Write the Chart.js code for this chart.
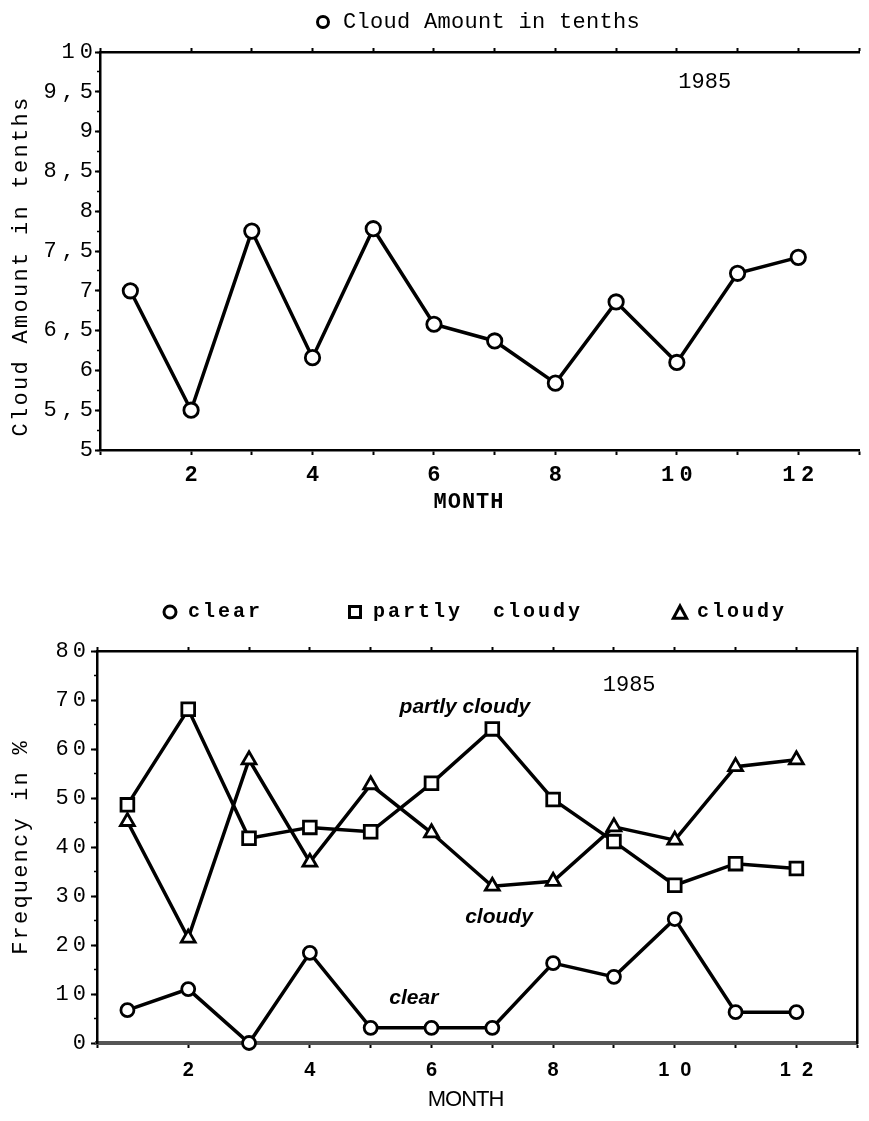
<!DOCTYPE html>
<html>
<head>
<meta charset="utf-8">
<title>Cloud amount and sky condition frequency, 1985</title>
<script src="https://cdn.jsdelivr.net/npm/chart.js@4.4.1/dist/chart.umd.min.js"></script>
<style>
  html, body { margin: 0; padding: 0; background: #fff; }
  body { width: 869px; height: 1121px; position: relative; overflow: hidden; }
  .panel { position: absolute; left: 0; width: 869px; }
  #amountPanel { top: 0; height: 530px; }
  #freqPanel { top: 580px; height: 541px; }
</style>
</head>
<body>
<div class="panel" id="amountPanel"><canvas id="amountChart"></canvas></div>
<div class="panel" id="freqPanel"><canvas id="freqChart"></canvas></div>
<script>
// Monthly values, 1985
const months = [1, 2, 3, 4, 5, 6, 7, 8, 9, 10, 11, 12];
const cloudAmount = [7.0, 5.5, 7.75, 6.16, 7.78, 6.58, 6.37, 5.84, 6.86, 6.10, 7.22, 7.42];
const clearFreq = [6.7, 11.0, 0, 18.4, 3.1, 3.1, 3.1, 16.3, 13.5, 25.3, 6.3, 6.3];
const partlyCloudyFreq = [48.6, 68.1, 41.8, 44.0, 43.1, 53.0, 64.1, 49.7, 41.1, 32.2, 36.6, 35.6];
const cloudyFreq = [45.2, 21.4, 57.8, 36.9, 52.7, 42.9, 32.0, 33.0, 44.1, 41.4, 56.4, 57.8];

// Tick labels
const monthTickLabels = [2, 4, 6, 8, 10, 12];
const amountRange = [5, 10];
const freqRange = [0, 80];

const MONO = "'Liberation Mono', 'Courier New', monospace";
const SANS = "'Liberation Sans', Arial, sans-serif";

const toPoints = vals => months.map((m, i) => ({ x: m, y: vals[i] }));
const monthLabel = v => monthTickLabels.includes(v) ? String(v) : '';

// Draws a scale's text with letter spacing and an optional shift.
function spaceScaleText(chart, rules) {
  rules.forEach(r => {
    const scale = chart.scales[r.scale];
    if (!scale || scale['_spaced_' + r.method]) return;
    const orig = scale[r.method];
    scale[r.method] = function (...args) {
      const ctx = this.ctx;
      ctx.save();
      ctx.letterSpacing = (r.spacing || 0) + 'px';
      ctx.translate(r.dx || 0, r.dy || 0);
      orig.apply(this, args);
      ctx.restore();
    };
    scale['_spaced_' + r.method] = true;
  });
}

function drawMarker(ctx, style, x, y, r) {
  ctx.save();
  ctx.lineWidth = 3;
  ctx.strokeStyle = '#000';
  ctx.fillStyle = '#fff';
  ctx.beginPath();
  if (style === 'circle') {
    ctx.arc(x, y, r, 0, Math.PI * 2);
  } else if (style === 'rect') {
    ctx.rect(x - r, y - r, 2 * r, 2 * r);
  } else {
    ctx.moveTo(x, y - r);
    ctx.lineTo(x + r * 0.95, y + r * 0.75);
    ctx.lineTo(x - r * 0.95, y + r * 0.75);
    ctx.closePath();
  }
  ctx.fill();
  ctx.stroke();
  ctx.restore();
}

function drawText(ctx, text, x, y, font, align, spacing) {
  ctx.save();
  ctx.font = font;
  ctx.fillStyle = '#000';
  ctx.textAlign = align || 'left';
  ctx.textBaseline = 'middle';
  ctx.letterSpacing = (spacing || 0) + 'px';
  ctx.fillText(text, x, y);
  ctx.restore();
}

function lineSeries(label, vals, style, radius) {
  return {
    label: label,
    data: toPoints(vals),
    xAxisID: 'x',
    yAxisID: 'y',
    borderColor: '#000',
    borderWidth: 3.5,
    tension: 0,
    pointStyle: style,
    pointRadius: radius,
    pointHoverRadius: radius,
    pointBorderWidth: 2.8,
    pointBackgroundColor: '#fff',
    pointBorderColor: '#000',
    clip: false
  };
}

// ---------- Cloud amount in tenths ----------
const amountDecor = {
  id: 'amountDecor',
  beforeDraw(chart) {
    spaceScaleText(chart, [
      { scale: 'x', method: 'drawLabels', spacing: 5.5, dx: 2.75 },
      { scale: 'x', method: 'drawTitle', spacing: 1, dx: -10.5 },
      { scale: 'y', method: 'drawLabels', spacing: 5 },
      { scale: 'y', method: 'drawTitle', spacing: 2.3, dy: 15 }
    ]);
  },
  afterDraw(chart) {
    const ctx = chart.ctx;
    drawMarker(ctx, 'circle', 323, 22, 5.5);
    drawText(ctx, 'Cloud Amount in tenths', 343, 22, '22px ' + MONO, 'left', 0.3);
    const xs = chart.scales.x, ys = chart.scales.y;
    drawText(ctx, '1985', xs.getPixelForValue(10.46), ys.getPixelForValue(9.62), '22px ' + MONO, 'center', 0);
  }
};

new Chart(document.getElementById('amountChart'), {
  type: 'line',
  data: { datasets: [lineSeries('Cloud Amount in tenths', cloudAmount, 'circle', 7.2)] },
  options: {
    responsive: true,
    maintainAspectRatio: false,
    animation: false,
    events: [],
    layout: { padding: { top: 47, left: 0, right: 1, bottom: 0 } },
    plugins: { legend: { display: false }, tooltip: { enabled: false } },
    scales: {
      x: {
        type: 'linear', position: 'bottom', min: 0.5, max: 13,
        afterFit(s) { s.height = 80; },
        ticks: {
          stepSize: 1, autoSkip: false, maxRotation: 0, minRotation: 0, padding: 7,
          color: '#000', font: { family: MONO, size: 22, weight: 'bold' },
          callback: monthLabel
        },
        grid: { drawOnChartArea: false, drawTicks: true, tickLength: 5, tickWidth: 2, tickColor: '#000' },
        border: { display: true, color: '#000', width: 2.5 },
        title: {
          display: true, text: 'MONTH', color: '#000',
          font: { family: MONO, size: 22, weight: 'bold' }, padding: { top: 0, bottom: 14 }
        }
      },
      xTop: {
        type: 'linear', position: 'top', min: 0.5, max: 13,
        afterFit(s) { s.height = 5; },
        ticks: { display: false, stepSize: 1, autoSkip: false },
        grid: { drawOnChartArea: false, drawTicks: true, tickLength: 4, tickWidth: 2, tickColor: '#000' },
        border: { display: true, color: '#000', width: 2.5 }
      },
      y: {
        type: 'linear', position: 'left', min: amountRange[0], max: amountRange[1], weight: 1,
        afterFit(s) { s.width = 100; },
        ticks: {
          stepSize: 0.5, autoSkip: false, padding: -3, color: '#000',
          font: { family: MONO, size: 22 },
          callback: v => String(v).replace('.', ',')
        },
        grid: { drawOnChartArea: false, drawTicks: true, tickLength: 5, tickWidth: 2, tickColor: '#000' },
        border: { display: true, color: '#000', width: 2.5 },
        title: {
          display: true, text: 'Cloud Amount in tenths', color: '#000',
          font: { family: MONO, size: 22 }, padding: { top: 8, bottom: 0 }
        }
      },
      yMinor: {
        type: 'linear', position: 'left', min: amountRange[0], max: amountRange[1], weight: 0,
        afterFit(s) { s.width = 0; },
        ticks: { display: false, stepSize: 0.25, autoSkip: false },
        grid: { drawOnChartArea: false, drawTicks: true, tickLength: 3, tickWidth: 1.5, tickColor: '#000' },
        border: { display: false }
      }
    }
  },
  plugins: [amountDecor]
});

// ---------- Frequency of clear / partly cloudy / cloudy skies ----------
const freqDecor = {
  id: 'freqDecor',
  beforeDraw(chart) {
    spaceScaleText(chart, [
      { scale: 'x', method: 'drawLabels', spacing: 11, dx: 5.5 },
      { scale: 'x', method: 'drawTitle', spacing: -1, dx: -11.5 },
      { scale: 'y', method: 'drawLabels', spacing: 4 },
      { scale: 'y', method: 'drawTitle', spacing: 2.2 }
    ]);
  },
  afterDraw(chart) {
    const ctx = chart.ctx;
    const legendFont = 'bold 20px ' + MONO;
    drawMarker(ctx, 'circle', 170, 32, 6);
    drawText(ctx, 'clear', 188, 32, legendFont, 'left', 3);
    drawMarker(ctx, 'rect', 355, 32, 5.5);
    drawText(ctx, 'partly  cloudy', 373, 32, legendFont, 'left', 3);
    drawMarker(ctx, 'triangle', 680, 33, 7);
    drawText(ctx, 'cloudy', 697, 32, legendFont, 'left', 3);

    const xs = chart.scales.x, ys = chart.scales.y;
    drawText(ctx, '1985', xs.getPixelForValue(9.25), ys.getPixelForValue(73.1), '22px ' + MONO, 'center', 0);
    const note = 'italic bold 21px ' + SANS;
    drawText(ctx, 'partly cloudy', xs.getPixelForValue(6.55), ys.getPixelForValue(68.6), note, 'center', 0);
    drawText(ctx, 'cloudy', xs.getPixelForValue(7.11), ys.getPixelForValue(25.7), note, 'center', 0);
    drawText(ctx, 'clear', xs.getPixelForValue(5.71), ys.getPixelForValue(9.2), note, 'center', 0);
  }
};

new Chart(document.getElementById('freqChart'), {
  type: 'line',
  data: {
    datasets: [
      lineSeries('clear', clearFreq, 'circle', 6.5),
      lineSeries('partly cloudy', partlyCloudyFreq, 'rect', 9),
      lineSeries('cloudy', cloudyFreq, 'triangle', 8)
    ]
  },
  options: {
    responsive: true,
    maintainAspectRatio: false,
    animation: false,
    events: [],
    layout: { padding: { top: 66, left: 0, right: 2, bottom: 0 } },
    plugins: { legend: { display: false }, tooltip: { enabled: false } },
    scales: {
      x: {
        type: 'linear', position: 'bottom', min: 0.5, max: 13,
        afterFit(s) { s.height = 78; },
        ticks: {
          stepSize: 1, autoSkip: false, maxRotation: 0, minRotation: 0, padding: 10,
          color: '#000', font: { family: SANS, size: 20, weight: 'bold' },
          callback: monthLabel
        },
        grid: { drawOnChartArea: false, drawTicks: true, tickLength: 5, tickWidth: 2, tickColor: '#000' },
        border: { display: true, color: '#555', width: 4, dash: [2, 1.5] },
        title: {
          display: true, text: 'MONTH', color: '#000',
          font: { family: SANS, size: 22 }, padding: { top: 0, bottom: 8 }
        }
      },
      xTop: {
        type: 'linear', position: 'top', min: 0.5, max: 13,
        afterFit(s) { s.height = 5; },
        ticks: { display: false, stepSize: 1, autoSkip: false },
        grid: { drawOnChartArea: false, drawTicks: true, tickLength: 4, tickWidth: 2, tickColor: '#000' },
        border: { display: true, color: '#000', width: 2.5 }
      },
      y: {
        type: 'linear', position: 'left', min: freqRange[0], max: freqRange[1], weight: 1,
        afterFit(s) { s.width = 97; },
        ticks: {
          stepSize: 10, autoSkip: false, padding: 1, color: '#000',
          font: { family: MONO, size: 22 }
        },
        grid: { drawOnChartArea: false, drawTicks: true, tickLength: 6, tickWidth: 2, tickColor: '#000' },
        border: { display: true, color: '#000', width: 2.5 },
        title: {
          display: true, text: 'Frequency in %', color: '#000',
          font: { family: MONO, size: 22 }, padding: { top: 8, bottom: 0 }
        }
      },
      yMinor: {
        type: 'linear', position: 'left', min: freqRange[0], max: freqRange[1], weight: 0,
        afterFit(s) { s.width = 0; },
        ticks: { display: false, stepSize: 5, autoSkip: false },
        grid: { drawOnChartArea: false, drawTicks: true, tickLength: 3, tickWidth: 1.5, tickColor: '#000' },
        border: { display: false }
      },
      yRight: {
        type: 'linear', position: 'right', min: freqRange[0], max: freqRange[1],
        afterFit(s) { s.width = 0; },
        ticks: { display: false },
        grid: { display: false, drawOnChartArea: false },
        border: { display: true, color: '#000', width: 2.5 }
      }
    }
  },
  plugins: [freqDecor]
});
</script>
</body>
</html>
